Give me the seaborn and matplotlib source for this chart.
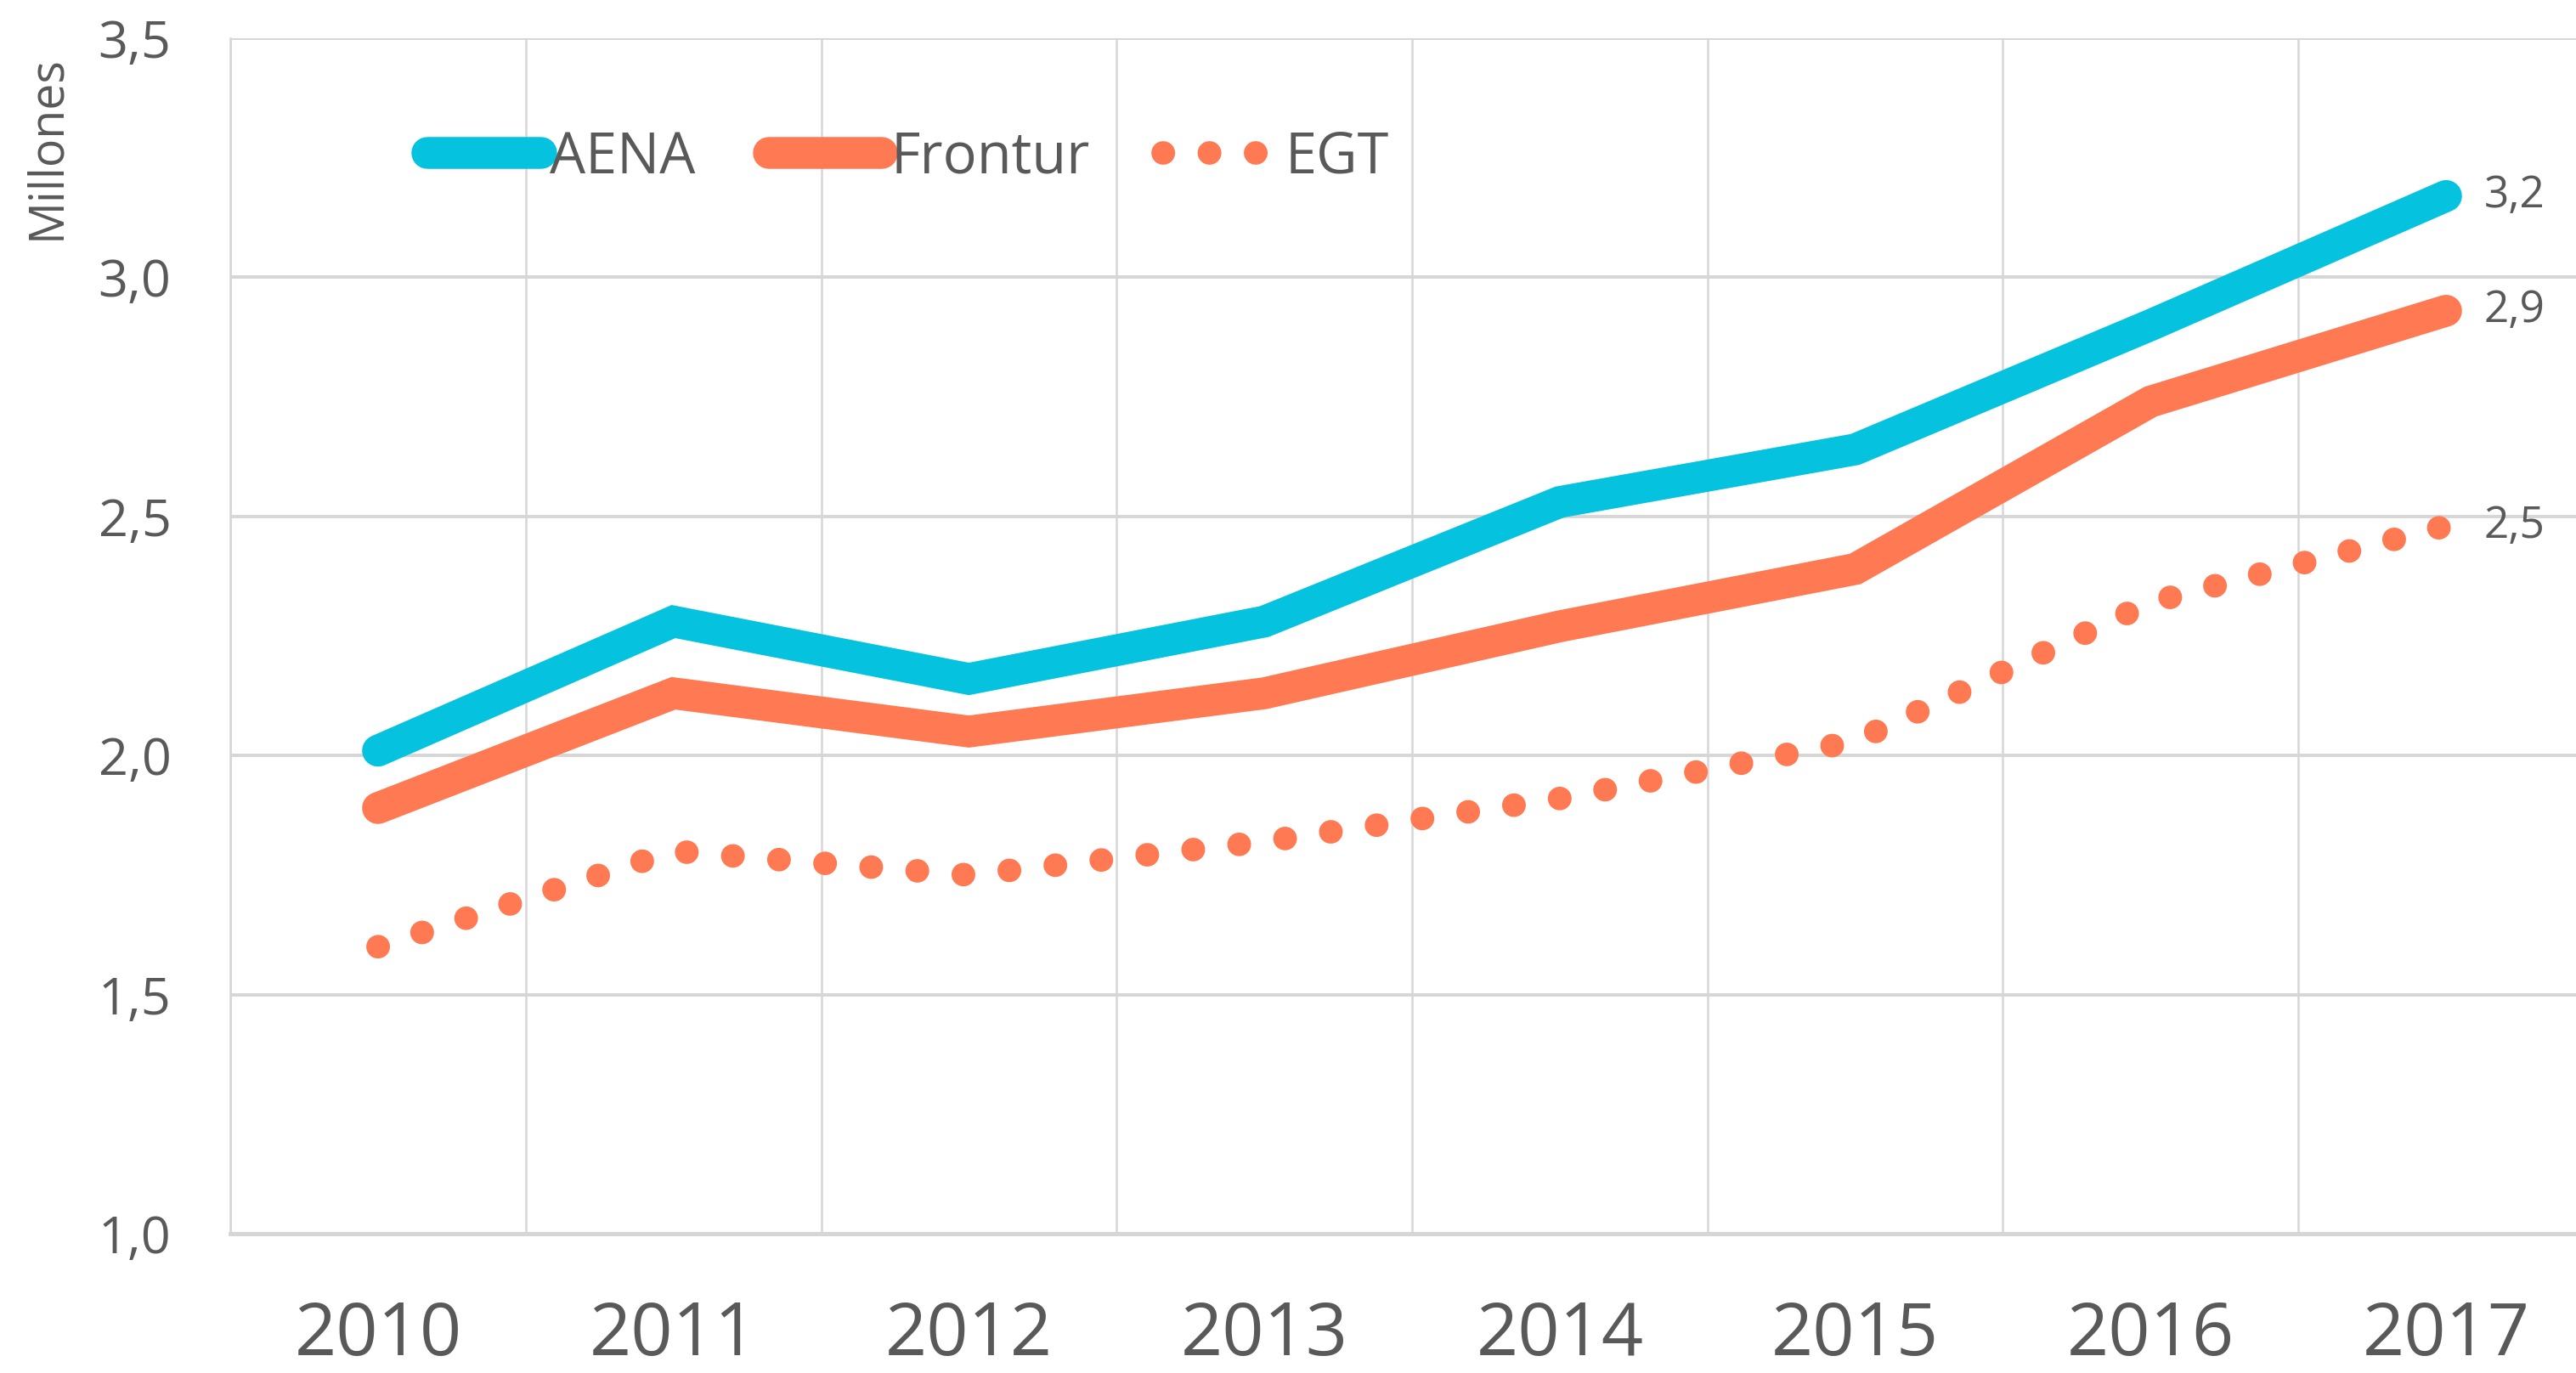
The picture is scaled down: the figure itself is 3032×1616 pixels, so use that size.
import numpy as np
import pandas as pd
import matplotlib.pyplot as plt
import seaborn as sns


# =========================
# DATA
# =========================

years = [2010, 2011, 2012, 2013, 2014, 2015, 2016, 2017]

aena = [2.01, 2.28, 2.16, 2.28, 2.53, 2.64, 2.90, 3.17]
frontur = [1.89, 2.13, 2.05, 2.13, 2.27, 2.39, 2.74, 2.93]
egt = [1.60, 1.80, 1.75, 1.82, 1.91, 2.03, 2.32, 2.48]

y_ticks = [1.0, 1.5, 2.0, 2.5, 3.0, 3.5]


# =========================
# STYLE
# =========================

CYAN = "#05C3DE"
ORANGE = "#FF7A52"
TEXT = "#595959"
GRID = "#D6D6D6"

sns.set_theme(style="white")
plt.rcParams["font.family"] = ["Open Sans", "DejaVu Sans"]

df = pd.DataFrame({
    "year": years,
    "AENA": aena,
    "Frontur": frontur,
    "EGT": egt
})


# =========================
# FIGURE
# =========================

fig = plt.figure(figsize=(15.16, 8.08), dpi=200)

ax = fig.add_axes([0.0894, 0.1015, 0.9175, 0.8707])

sns.lineplot(
    data=df, x="year", y="AENA", ax=ax,
    color=CYAN, linewidth=13.5, label="AENA",
    solid_capstyle="round", solid_joinstyle="miter"
)

sns.lineplot(
    data=df, x="year", y="Frontur", ax=ax,
    color=ORANGE, linewidth=13.5, label="Frontur",
    solid_capstyle="round", solid_joinstyle="miter"
)

sns.lineplot(
    data=df, x="year", y="EGT", ax=ax,
    color=ORANGE, linewidth=10, label="EGT",
    linestyle=(0, (0.01, 1.95)), dash_capstyle="round"
)


# =========================
# AXES
# =========================

ax.set_xlim(years[0] - 0.5, years[-1] + 0.5)
ax.set_ylim(y_ticks[0], y_ticks[-1])

ax.set_xticks(years)
ax.set_xticklabels([str(y) for y in years], fontsize=31, color=TEXT)
ax.set_xticks([y - 0.5 for y in years], minor=True)

ax.set_yticks(y_ticks)
ax.set_yticklabels(
    [f"{v:.1f}".replace(".", ",") for v in y_ticks],
    fontsize=22, color=TEXT
)

ax.tick_params(axis="x", which="both", length=0, pad=28)
ax.tick_params(axis="y", length=0, pad=25)

ax.grid(axis="y", which="major", color=GRID, linewidth=1.4)
ax.grid(axis="x", which="minor", color=GRID, linewidth=0.9)
ax.grid(axis="x", which="major", visible=False)

for side in ["top", "right"]:
    ax.spines[side].set_visible(False)

ax.spines["left"].set_color(GRID)
ax.spines["left"].set_linewidth(0.9)
ax.spines["bottom"].set_color(GRID)
ax.spines["bottom"].set_linewidth(1.8)

ax.set_xlabel("")
ax.set_ylabel("")

fig.text(
    56 / 3032, 1 - 174 / 1616, "Millones",
    rotation=90, ha="center", va="center",
    fontsize=20, color=TEXT
)


# =========================
# END LABELS
# =========================

for series in [aena, frontur, egt]:
    ax.annotate(
        f"{series[-1]:.1f}".replace(".", ","),
        xy=(years[-1], series[-1]),
        xytext=(16, 0),
        textcoords="offset points",
        ha="left", va="center",
        fontsize=18.5, color=TEXT,
        annotation_clip=False
    )


# =========================
# LEGEND
# =========================

handles, labels = ax.get_legend_handles_labels()

leg = ax.legend(
    handles, labels,
    loc="center left",
    bbox_to_anchor=(0.166, 0.885),
    bbox_transform=fig.transFigure,
    ncol=3, frameon=False,
    handlelength=2.0, handletextpad=0.15,
    columnspacing=1.3, fontsize=24,
    borderaxespad=0, borderpad=0
)

for text in leg.get_texts():
    text.set_color(TEXT)

fig.savefig("out.png", dpi=200)
plt.close(fig)
